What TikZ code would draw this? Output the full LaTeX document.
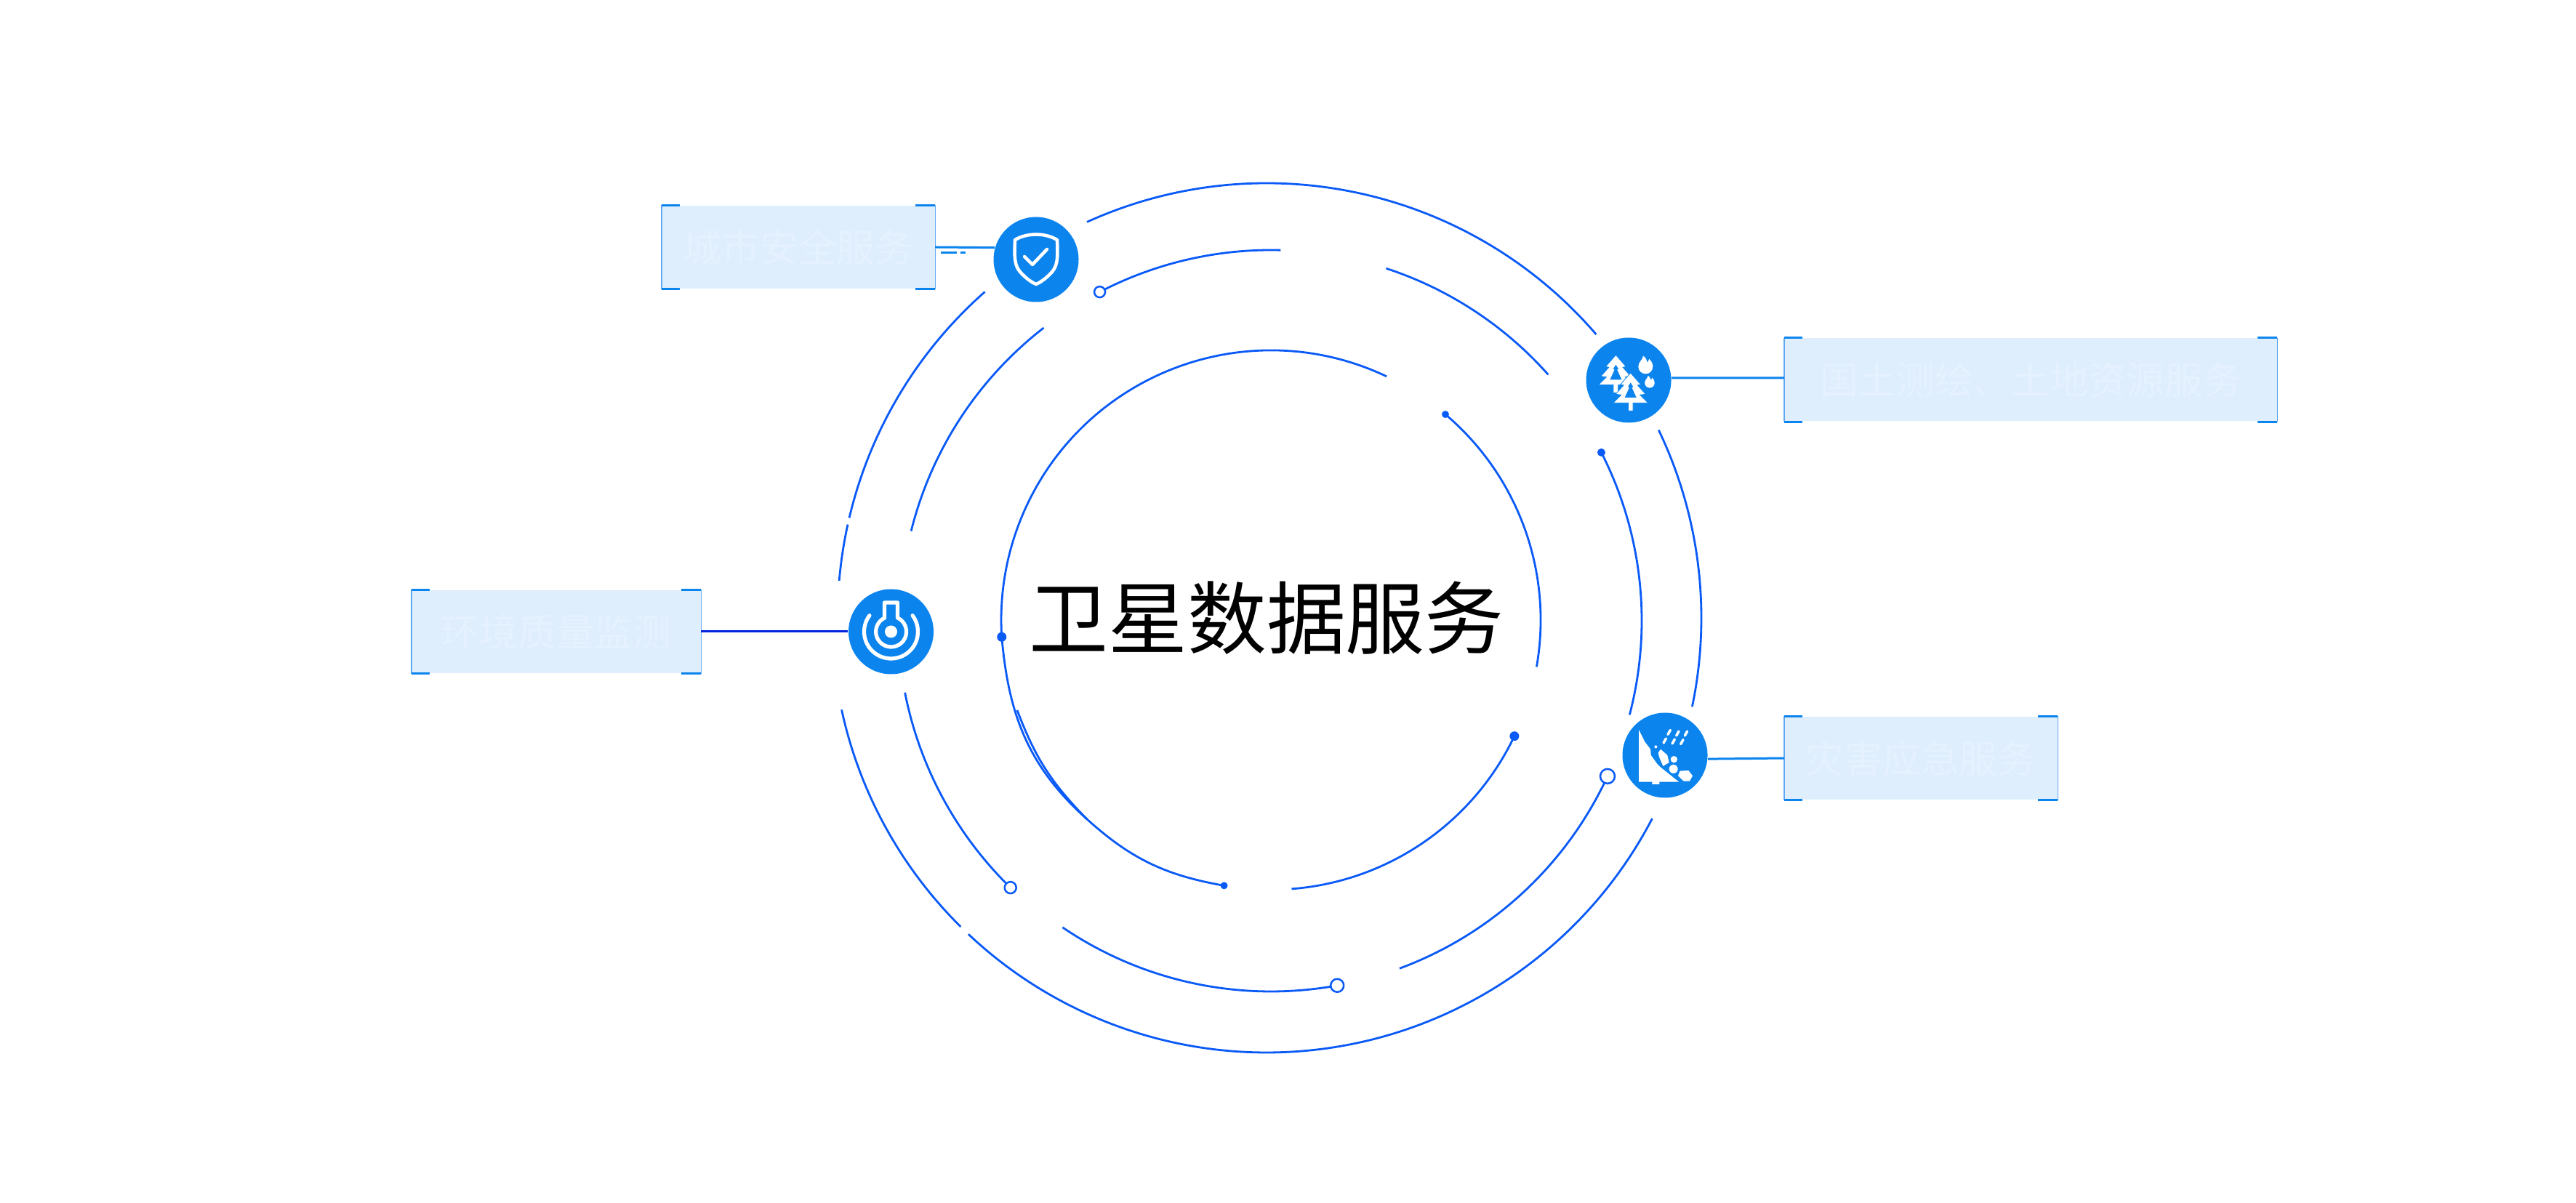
\documentclass[tikz,border=0pt]{standalone}
\usepackage{fontspec}
\setmainfont{Noto Sans CJK SC}
\definecolor{ringblue}{HTML}{0A5AF8}
\definecolor{iconblue}{HTML}{0C84EE}
\definecolor{boxfill}{HTML}{DEEEFD}
\definecolor{boxtext}{HTML}{E5F1FE}
\definecolor{sideblue}{HTML}{5EA9F4}
\definecolor{darklink}{HTML}{0022DD}
\tikzset{
  ringline/.style={draw=ringblue, line width=0.028cm},
  linkline/.style={draw=iconblue, line width=0.03cm},
  iconnode/.style={circle, fill=iconblue, minimum size=1.17cm, inner sep=0},
  infobox/.style={rectangle, fill=boxfill, text=boxtext, inner sep=0, minimum height=1.14cm, font=\fontsize{15pt}{15pt}\selectfont},
  boxside/.style={draw=sideblue, line width=0.014cm},
  boxtick/.style={draw=iconblue, line width=0.03cm},
  fulldot/.style={circle, fill=ringblue, inner sep=0},
  holedot/.style={circle, draw=ringblue, fill=white, line width=0.025cm, inner sep=0},
  iconline/.style={draw=white, line width=0.052cm, line cap=round, line join=round},
  firtree/.pic={
    \fill[white, draw=iconblue, line width=0.008cm] (0,-124) -- (42,-76) -- (29,-73) -- (62,-36) -- (39,-33) -- (72,0)
      -- (10,0) -- (10,33) -- (-10,33) -- (-10,0) -- (-72,0) -- (-39,-33) -- (-62,-36) -- (-29,-73) -- (-42,-76) -- cycle;
    \fill[iconblue] (0,-84) -- (11,-66) -- (5,-64) -- (24,-22) -- (-24,-22) -- (-5,-64) -- (-11,-66) -- cycle;
  },
  flame/.pic={
    \fill[white] (-10,-42) .. controls (-12,-25) and (-30,-18) .. (-30,2) .. controls (-30,20) and (-15,32) .. (0,32)
      .. controls (17,32) and (30,20) .. (30,0) .. controls (30,-12) and (22,-22) .. (15,-30)
      .. controls (13,-22) and (10,-18) .. (6,-16) .. controls (5,-27) and (0,-37) .. (-10,-42) -- cycle;
  },
}
\begin{document}
\begin{tikzpicture}
  \useasboundingbox (0, 0) rectangle (35.43, 16.54);
  \coordinate (outerC) at (17.42, 8.04);
  \coordinate (outerL) at (17.50, 8.04);
  \coordinate (midC) at (17.48, 8.00);
  \coordinate (innerC) at (17.48, 8.01);
  % Rings
  \foreach \a/\b in {114.4/40.7, 25.6/-11.8, -27.5/-133.3, -134.7/-167.8}
    \draw[ringline] ([shift={(\a:5.98)}]outerC) arc[start angle=\a, end angle=\b, radius=5.98];
  \foreach \a/\b in {175.1/167.6, 166.7/131.4}
    \draw[ringline] ([shift={(\a:5.98)}]outerL) arc[start angle=\a, end angle=\b, radius=5.98];
  \foreach \a/\b in {117.5/88.5, 71.9/41.6, 27/-14.7, -24.8/-69.7, -79.7/-124.2, 166/127.8}
    \draw[ringline] ([shift={(\a:5.10)}]midC) arc[start angle=\a, end angle=\b, radius=5.10];
  \draw[ringline] ([shift={(-134.3:5.13)}]midC) arc[start angle=-134.3, end angle=-168.9, radius=5.13];
  \foreach \a/\b in {64.6/183.6, 49.7/-10, -25.5/-85.6}
    \draw[ringline] ([shift={(\a:3.71)}]innerC) arc[start angle=\a, end angle=\b, radius=3.71];
  % Dots
  \node (D1) [holedot, minimum size=0.15cm] at ([shift={(117.5:5.10)}]midC) {};
  \node (D2) [fulldot, minimum size=0.11cm] at ([shift={(27:5.10)}]midC) {};
  \node (D3) [holedot, minimum size=0.20cm] at ([shift={(-24.8:5.10)}]midC) {};
  \node (D4) [holedot, minimum size=0.18cm] at ([shift={(-79.7:5.10)}]midC) {};
  \node (D5) [holedot, minimum size=0.16cm] at ([shift={(-134.3:5.13)}]midC) {};
  \node (D6) [fulldot, minimum size=0.13cm] at ([shift={(183.6:3.71)}]innerC) {};
  \node (D7) [fulldot, minimum size=0.10cm] at ([shift={(260:3.71)}]innerC) {};
  \node (D8) [fulldot, minimum size=0.10cm] at ([shift={(49.7:3.71)}]innerC) {};
  \node (D9) [fulldot, minimum size=0.13cm] at ([shift={(-25.5:3.71)}]innerC) {};
  % Lower left of the inner ring
  \coordinate (extraA) at (13.99, 6.77);
  \coordinate (extraB) at (14.95, 5.27);
  \draw[ringline] (D6.center) to[out=-85, in=138] (extraB) to[out=-42, in=170] (D7.center);
  \draw[ringline] (extraA) to[bend right=12] (extraB);
  % Boxes
  \node (B1) [infobox, minimum width=3.75cm] at (10.98, 13.14) {城市安全服务};
  \node (B2) [infobox, minimum width=6.77cm] at (27.93, 11.315) {国土测绘、土地资源服务};
  \node (B3) [infobox, minimum width=3.97cm] at (7.65, 7.85) {环境质量监测};
  \node (B4) [infobox, minimum width=3.75cm] at (26.42, 6.11) {灾害应急服务};
  \foreach \b in {B1, B2, B3, B4} {
    \draw[boxside] (\b.north west) -- (\b.south west);
    \draw[boxside] (\b.north east) -- (\b.south east);
    \draw[boxtick] (\b.north west) -- ++(0.25, 0);
    \draw[boxtick] (\b.south west) -- ++(0.25, 0);
    \draw[boxtick] (\b.north east) -- ++(-0.27, 0);
    \draw[boxtick] (\b.south east) -- ++(-0.27, 0);
  }
  % Icons
  \node (I1) [iconnode] at (14.25, 12.97) {};
  \node (I2) [iconnode] at (22.40, 11.31) {};
  \node (I3) [iconnode] at (12.255, 7.85) {};
  \node (I4) [iconnode] at (22.90, 6.15) {};
  % Links
  \draw[linkline] (B1.east) -- (I1.164);
  \draw[linkline] (I2.3) -- ([yshift=0.025cm]B2.west);
  \draw[linkline, darklink] (B3.east) -- (I3.west);
  \draw[linkline] (I4.-5) -- (B4.west);
  \draw[boxtick] ([xshift=0.08cm, yshift=-0.08cm]B1.east) -- ++(0.22, 0);
  \draw[boxtick] ([xshift=0.35cm, yshift=-0.08cm]B1.east) -- ++(0.07, 0);
  % Shield
  \begin{scope}[shift={(I1.center)}]
    \draw[iconline, line width=0.045cm] (-0.29, 0.27) .. controls (-0.12, 0.37) and (0.12, 0.37) .. (0.29, 0.27)
      .. controls (0.30, 0.05) and (0.30, -0.08) .. (0.22, -0.17) .. controls (0.15, -0.25) and (0.07, -0.31) .. (0, -0.34)
      .. controls (-0.07, -0.31) and (-0.15, -0.25) .. (-0.22, -0.17) .. controls (-0.30, -0.08) and (-0.30, 0.05) .. (-0.29, 0.27) -- cycle;
    \draw[iconline, line width=0.045cm] (-0.16, 0.04) -- (-0.05, -0.07) -- (0.15, 0.14);
  \end{scope}
  % Trees
  \begin{scope}[shift={(I2.center)}, x=0.00333cm, y=-0.00333cm, shift={(-210, -188)}]
    \pic at (157, 208) {firtree};
    \pic at (218, 282) {firtree};
    \pic at (280, 130) {flame};
    \pic[scale=0.68] at (297, 198) {flame};
  \end{scope}
  % Gauge
  \begin{scope}[shift={(I3.center)}]
    \fill[white] (0, 0) circle (0.085);
    \draw[iconline] (-0.09, 0.19) -- (-0.09, 0.40) -- (0.09, 0.40) -- (0.09, 0.19) arc[start angle=65, end angle=-245, radius=0.21];
    \draw[iconline] (143:0.37) arc[start angle=143, end angle=397, radius=0.37];
  \end{scope}
  % Slope
  \begin{scope}[shift={(I4.center)}, x=0.00333cm, y=-0.00333cm, shift={(-208, -205)}]
    \fill[white] (100, 100) -- (125, 150) -- (148, 180) -- (150, 205) -- (175, 240) -- (190, 255) -- (265, 315)
      -- (185, 315) -- (185, 325) -- (155, 325) -- (155, 315) -- (100, 315) -- cycle;
    \foreach \x/\y in {225/110, 260/115, 295/115, 207/145, 243/148, 278/150}
      \draw[white, line width=0.035cm, line cap=round] (\x-5, \y+9) -- (\x+5, \y-9);
    \fill[white] (170, 170) circle (6);
    \fill[white] (190, 180) -- (218, 205) -- (225, 235) -- (200, 250) -- (185, 215) -- (180, 195) -- cycle;
    \fill[white] (245, 222) circle (14);
    \fill[white] (243, 262) circle (18);
    \fill[white] (270, 270) -- (305, 268) -- (322, 290) -- (310, 312) -- (285, 312) -- (262, 290) -- cycle;
  \end{scope}
  % Title
  \node (title) at (17.42, 8.04) {\fontsize{31pt}{31pt}\selectfont 卫星数据服务};
\end{tikzpicture}
\end{document}
